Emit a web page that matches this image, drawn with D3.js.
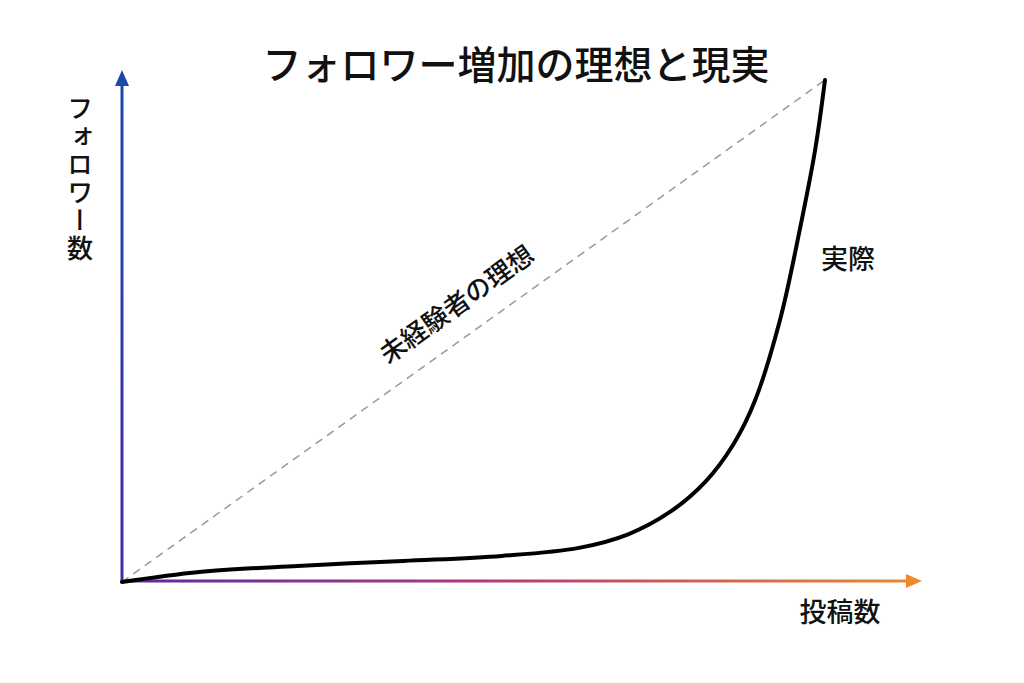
<!DOCTYPE html>
<html lang="ja">
<head>
<meta charset="UTF-8">
<title>フォロワー増加の理想と現実</title>
<script src="https://d3js.org/d3.v7.min.js"></script>
<style>
  body { margin: 0; background: #fff; }
  text { font-family: "Noto Sans CJK JP", "Noto Sans", sans-serif; fill: #111; font-weight: 500; }
</style>
</head>
<body>
<svg width="1024" height="683"></svg>
<script>
// 投稿数 (0-100) vs フォロワー数 (0-100)
const postCounts    = [0, 11, 25, 40, 54, 65, 72, 78, 83, 87, 90, 93.6, 96.4, 98.6, 100];
const actualFollows = [0, 2.0, 3.2, 4.2, 5.2, 6.8, 9.5, 14.0, 20.0, 27.5, 36.0, 52.2, 70.1, 86.1, 100];
const idealPosts    = [0, 100];
const idealFollows  = [0, 100];

const svg = d3.select("svg");
const x = d3.scaleLinear().domain([0, 100]).range([122, 825]);
const y = d3.scaleLinear().domain([0, 100]).range([582, 80]);

const defs = svg.append("defs");
const gx = defs.append("linearGradient").attr("id", "gx")
  .attr("gradientUnits", "userSpaceOnUse").attr("x1", 122).attr("x2", 922).attr("y1", 0).attr("y2", 0);
gx.append("stop").attr("offset", "0%").attr("stop-color", "#5a2aa8");
gx.append("stop").attr("offset", "45%").attr("stop-color", "#b03a78");
gx.append("stop").attr("offset", "100%").attr("stop-color", "#f0892e");
const gy = defs.append("linearGradient").attr("id", "gy")
  .attr("gradientUnits", "userSpaceOnUse").attr("x1", 0).attr("x2", 0).attr("y1", 582).attr("y2", 70);
gy.append("stop").attr("offset", "0%").attr("stop-color", "#4a2ca0");
gy.append("stop").attr("offset", "100%").attr("stop-color", "#1a4aa8");

// axes with arrowheads
svg.append("line").attr("x1", 121).attr("x2", 910).attr("y1", 581).attr("y2", 581)
  .attr("stroke", "url(#gx)").attr("stroke-width", 3);
svg.append("path").attr("d", "M922,581 L906,574 L906,588 Z").attr("fill", "#f0892e");
svg.append("line").attr("x1", 122).attr("x2", 122).attr("y1", 583).attr("y2", 82)
  .attr("stroke", "url(#gy)").attr("stroke-width", 3);
svg.append("path").attr("d", "M122,70 L115,86 L129,86 Z").attr("fill", "#1a4aa8");

// ideal (dashed)
const line = d3.line().x(d => x(d[0])).y(d => y(d[1]));
svg.append("path").datum(d3.zip(idealPosts, idealFollows))
  .attr("d", line).attr("fill", "none").attr("stroke", "#999")
  .attr("stroke-width", 1.5).attr("stroke-dasharray", "8,6");

// actual
svg.append("path").datum(d3.zip(postCounts, actualFollows))
  .attr("d", line.curve(d3.curveCatmullRom.alpha(0.5))).attr("fill", "none")
  .attr("stroke", "#000").attr("stroke-width", 4).attr("stroke-linecap", "round");

// texts
svg.append("text").attr("x", 516).attr("y", 79).attr("text-anchor", "middle")
  .attr("font-size", 39).text("フォロワー増加の理想と現実");
svg.append("text").attr("x", 80).attr("y", 95)
  .style("writing-mode", "vertical-rl").style("text-orientation", "upright")
  .attr("font-size", 26).attr("letter-spacing", 2).text("フォロワー数");
svg.append("text").attr("x", 840).attr("y", 622).attr("text-anchor", "middle")
  .attr("font-size", 27).text("投稿数");
svg.append("text").attr("x", 848).attr("y", 269).attr("text-anchor", "middle")
  .attr("font-size", 27).text("実際");
svg.append("text").attr("transform", "translate(462,312) rotate(-35.5)")
  .attr("text-anchor", "middle").attr("font-size", 26).text("未経験者の理想");
</script>
</body>
</html>
